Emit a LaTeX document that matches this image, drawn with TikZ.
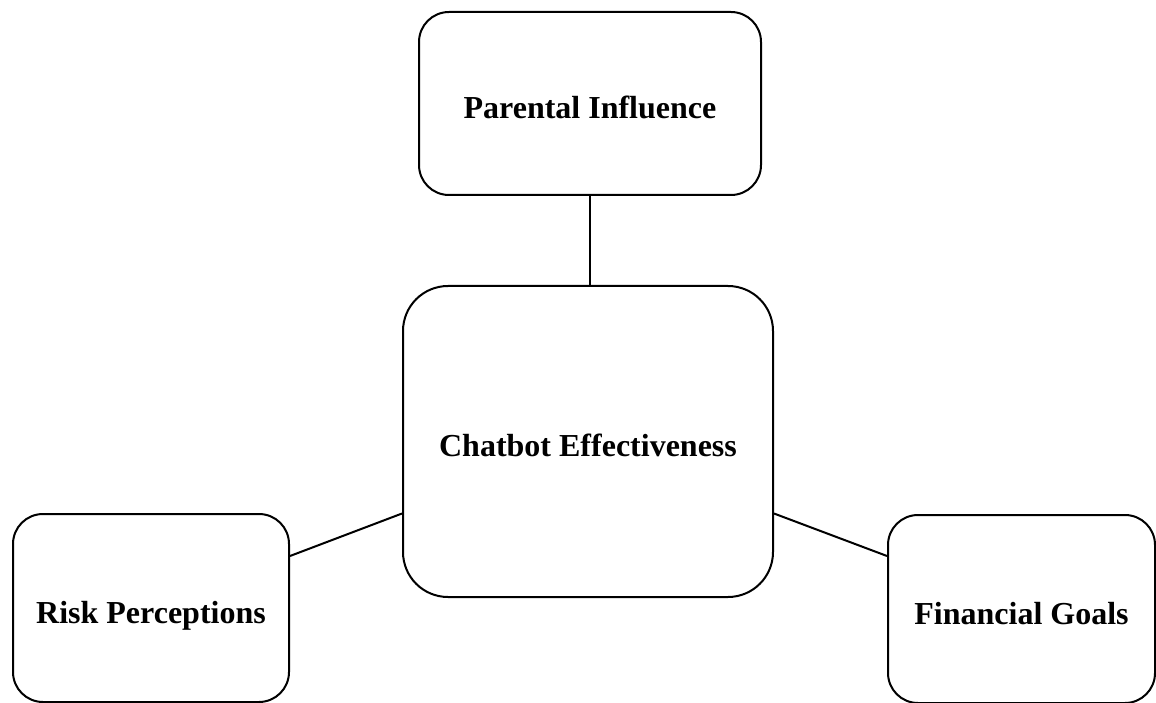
\documentclass[tikz,border=0pt]{standalone}
\usepackage{fontspec}
\setmainfont{Liberation Serif}
\begin{document}
\begin{tikzpicture}[x=1pt,y=-1pt,
  box/.style={draw=black, line width=2pt, rounded corners=30pt, align=center,
    font=\fontsize{32}{36}\selectfont\bfseries, inner sep=0pt,
    text height=30pt, text depth=0pt},
  link/.style={draw=black, line width=2pt}]
\useasboundingbox (0,0) rectangle (1156,703);
\node[box, minimum width=342pt, minimum height=183pt] (p) at (590,103.5) {Parental Influence};
\node[box, rounded corners=45pt, minimum width=370pt, minimum height=311pt] (c) at (588,441.5) {Chatbot Effectiveness};
\node[box, minimum width=276pt, minimum height=188pt] (r) at (151,608) {Risk Perceptions};
\node[box, minimum width=267pt, minimum height=188pt] (f) at (1021.5,609) {Financial Goals};
\draw[link] (p.south -| 590,0) -- (c.north -| 590,0);
\draw[link] ([yshift=52pt]r.east) -- ([yshift=-72pt]c.west);
\draw[link] ([yshift=-72pt]c.east) -- ([yshift=53pt]f.west);
\end{tikzpicture}
\end{document}
